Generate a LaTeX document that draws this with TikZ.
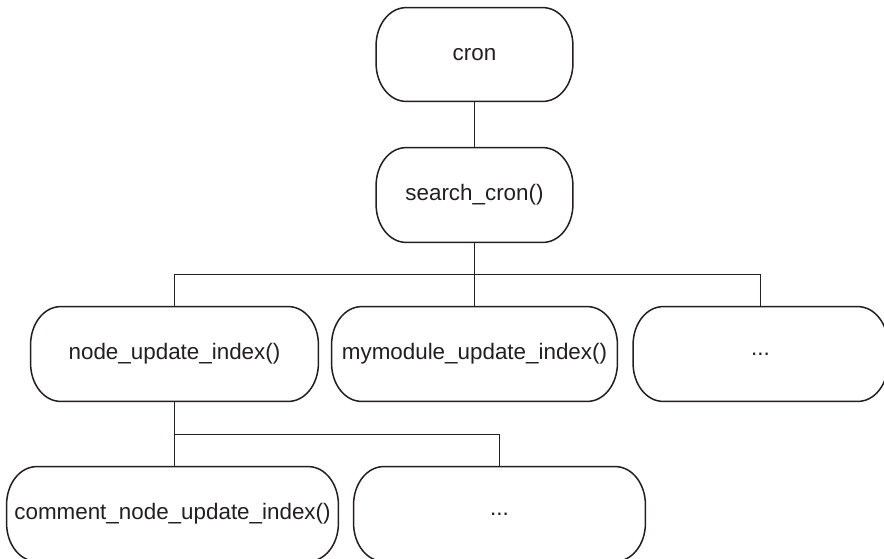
\documentclass[tikz,border=0pt]{standalone}
\usepackage{fontspec}
\setmainfont{Liberation Sans}
\usetikzlibrary{calc}
\definecolor{ink}{HTML}{231F20}
\tikzset{
  box/.style={rectangle, inner sep=0pt, font=\fontsize{11.2}{13}\selectfont, text=ink, minimum height=47pt},
  wire/.style={draw=ink, line width=0.75pt},
  outline/.style={draw=ink, line width=0.75pt}
}
\begin{document}
\begin{tikzpicture}[x=0.5pt,y=-0.5pt]
\clip (0,0) rectangle (884,558);
\fill[white] (0,0) rectangle (884,558);
\node[box, minimum width=98pt, minimum height=46.5pt] (cron) at (474.5,54.5) {cron};
\node[box, minimum width=98pt] (search) at (474.5,195) {search\_cron()};
\node[box, minimum width=143.5pt] (nui) at (174.5,354) {node\_update\_index()};
\node[box, minimum width=142.5pt] (mym) at (474.5,354) {mymodule\_update\_index()};
\node[box, minimum width=127pt] (dots1) at (760.5,354) {...};
\node[box, minimum width=165.5pt] (comment) at (172.5,514) {comment\_node\_update\_index()};
\node[box, minimum width=145.5pt] (dots2) at (499.5,514) {...};
\foreach \n in {cron,search,nui,mym,dots1,comment,dots2}{
  \draw[outline] ($(\n.north west)+(15pt,0pt)$) -- ($(\n.north east)+(-15pt,0pt)$)
    arc[start angle=90,end angle=0,x radius=15pt,y radius=19pt]
    -- ($(\n.south east)+(0pt,19pt)$)
    arc[start angle=0,end angle=-90,x radius=15pt,y radius=19pt]
    -- ($(\n.south west)+(15pt,0pt)$)
    arc[start angle=-90,end angle=-180,x radius=15pt,y radius=19pt]
    -- ($(\n.north west)+(0pt,-19pt)$)
    arc[start angle=180,end angle=90,x radius=15pt,y radius=19pt] -- cycle;
}
\coordinate (j1) at ($(search.south)!0.5!(search.south |- nui.north)$);
\coordinate (j2) at ($(nui.south)!0.5!(nui.south |- comment.north)+(0,0.5)$);
\draw[wire] (cron.south) -- (search.north);
\draw[wire] (search.south) -- (mym.north);
\draw[wire] (nui.north) |- (j1) -| (dots1.north);
\draw[wire] (nui.south) -- (nui.south |- comment.north);
\draw[wire] (j2) -| (dots2.north);
\end{tikzpicture}
\end{document}
